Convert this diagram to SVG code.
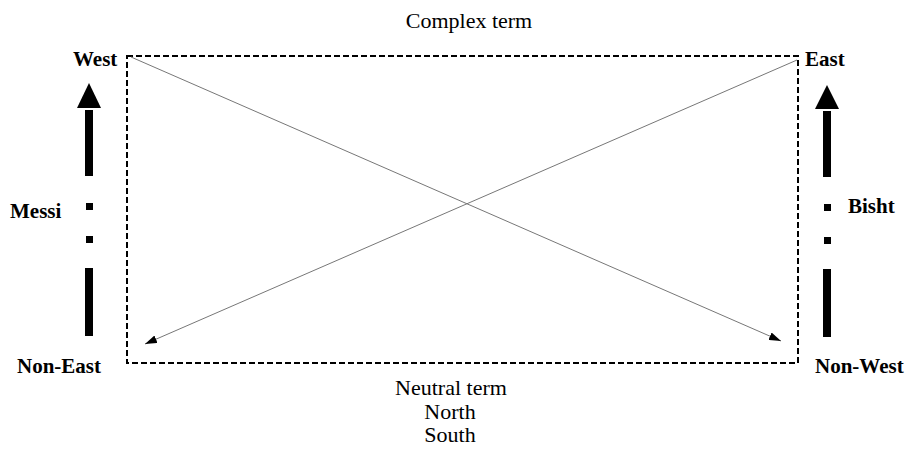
<svg xmlns="http://www.w3.org/2000/svg" width="909" height="450" viewBox="0 0 909 450">
<style>
.t{font-family:"Liberation Serif","Times New Roman",serif;font-size:22px;fill:#000}
.b{font-weight:bold;font-size:21px}
.m{text-anchor:middle}
.diag{stroke:#777;stroke-width:1;fill:none}
</style>
<defs>
<marker id="ah" viewBox="0 0 12 8" refX="12" refY="4" markerWidth="12" markerHeight="8" markerUnits="userSpaceOnUse" orient="auto">
<path d="M0,0 L12,4 L0,8 Z" fill="#000"/>
</marker>
</defs>
<rect width="909" height="450" fill="#fff"/>
<g id="frame">
<rect x="127" y="56" width="671" height="307" fill="none" stroke="#000" stroke-width="2" stroke-dasharray="6 3"/>
</g>
<g id="connectors">
<line class="diag" x1="131" y1="57" x2="781" y2="341" marker-end="url(#ah)"/>
<line class="diag" x1="797" y1="60" x2="145" y2="344" marker-end="url(#ah)"/>
</g>
<g id="left-axis">
<path d="M89,83 L101,108 L77,108 Z" fill="#000"/>
<rect x="85" y="110" width="8" height="66" fill="#000"/>
<rect x="86" y="203" width="7" height="7" fill="#000"/>
<rect x="86" y="236" width="7" height="7" fill="#000"/>
<rect x="85" y="268" width="8" height="68" fill="#000"/>
</g>
<g id="right-axis">
<path d="M827,85 L839,109 L815,109 Z" fill="#000"/>
<rect x="823" y="111" width="8" height="66" fill="#000"/>
<rect x="824" y="204" width="7" height="7" fill="#000"/>
<rect x="824" y="237" width="7" height="7" fill="#000"/>
<rect x="823" y="269" width="8" height="68" fill="#000"/>
</g>
<g id="west"><text class="t b" x="73" y="66">West</text></g>
<g id="east"><text class="t b" x="805" y="66">East</text></g>
<g id="messi"><text class="t b" x="10" y="218">Messi</text></g>
<g id="bisht"><text class="t b" x="848" y="213">Bisht</text></g>
<g id="non-east"><text class="t b" x="17" y="373">Non-East</text></g>
<g id="non-west"><text class="t b" x="815" y="373">Non-West</text></g>
<g id="complex"><text class="t m" x="469" y="28">Complex term</text></g>
<g id="neutral">
<text class="t m" x="451" y="395">Neutral term</text>
<text class="t m" x="450" y="419">North</text>
<text class="t m" x="450" y="442">South</text>
</g>
</svg>
